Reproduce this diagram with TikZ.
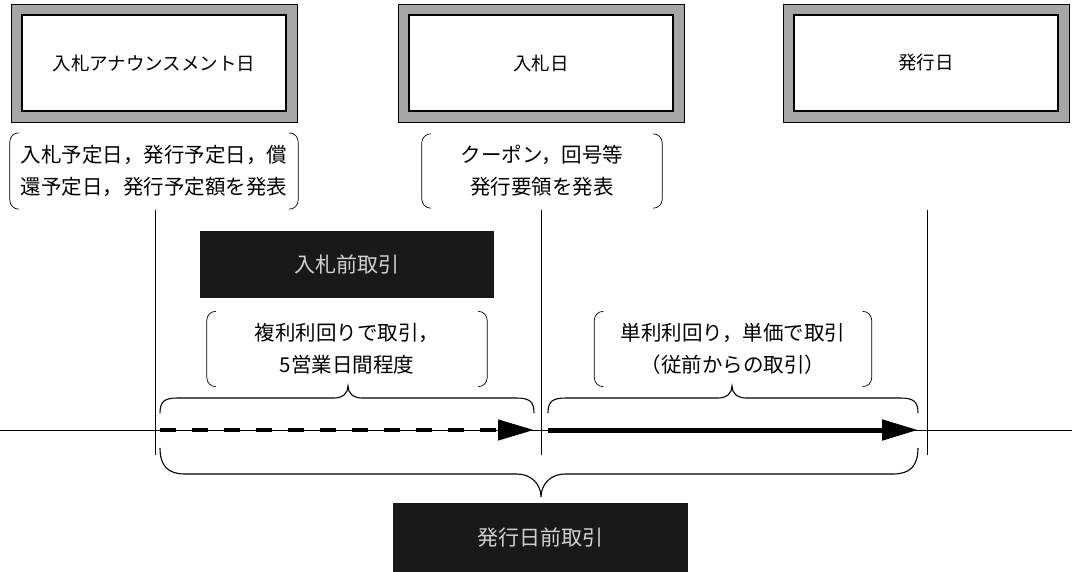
\documentclass[tikz,border=0pt]{standalone}
\usepackage{fontspec}
\setmainfont{Noto Sans CJK JP}
\usetikzlibrary{arrows.meta}
\begin{document}
\begin{tikzpicture}[x=1pt,y=-1pt,
  frameouter/.style={draw=black, line width=0.6pt, fill=black!35, minimum width=286pt, minimum height=118pt, inner sep=0pt},
  frameinner/.style={draw=black, line width=1.2pt, fill=white, minimum width=264pt, minimum height=96pt, inner sep=0pt, font=\fontsize{18.5}{22}\selectfont},
  darkbox/.style={fill=black!90, text=black!18, minimum width=295pt, inner sep=0pt, font=\fontsize{21}{25}\selectfont},
  notebox/.style={align=center, inner sep=0pt, font=\fontsize{20.5}{32}\selectfont},
  bracketline/.style={line width=0.7pt, rounded corners=9pt},
  braceline/.style={line width=1.1pt},
  thinline/.style={line width=1pt},
  tip/.style={-{Triangle[length=36pt,width=20pt]}}
]
\fill[white] (0,0) rectangle (1072,572);
\useasboundingbox (0,0) rectangle (1072,572);

% top frames
\node[frameouter] (f1) at (154,63) {};
\node[frameinner] (d1) at (154,63) {入札アナウンスメント日};
\node[frameouter] (f2) at (541,63) {};
\node[frameinner] (d2) at (541,63) {入札日};
\node[frameouter] (f3) at (926,63) {};
\node[frameinner] (d3) at (926,63) {発行日};

% note brackets under frames
\node[notebox, minimum width=288pt, minimum height=76pt] (n1) at (154,171) {入札予定日，発行予定日，償\\還予定日，発行予定額を発表};
\node[notebox, minimum width=240pt, minimum height=74pt] (n2) at (542,171) {クーポン，回号等\\発行要領を発表};
\node[notebox, minimum width=280pt, minimum height=75pt] (n3) at (347,349) {複利利回りで取引，\\5営業日間程度};
\node[notebox, minimum width=277pt, minimum height=75pt] (n4) at (733,349) {単利利回り，単価で取引\\（従前からの取引）};

\foreach \n in {n1,n2,n3,n4}{
  \draw[bracketline] ([xshift=9pt]\n.north west) -- (\n.north west) -- (\n.south west) -- ([xshift=9pt]\n.south west);
  \draw[bracketline] ([xshift=-9pt]\n.north east) -- (\n.north east) -- (\n.south east) -- ([xshift=-9pt]\n.south east);
}

% dark labels
\node[darkbox, minimum width=294pt, minimum height=67pt] (pre) at (347,264.5) {入札前取引};
\node[darkbox, minimum width=295pt, minimum height=69pt] (iss) at (540.5,537.5) {発行日前取引};

% vertical markers
\coordinate (v1t) at (155,210); \coordinate (v1b) at (155,455);
\coordinate (v2t) at (541,210); \coordinate (v2b) at (541,455);
\coordinate (v3t) at (927,210); \coordinate (v3b) at (927,455);
\draw[thinline] (v1t) -- (v1b);
\draw[thinline] (v2t) -- (v2b);
\draw[thinline] (v3t) -- (v3b);

% time axis
\coordinate (axl) at (0,430); \coordinate (axr) at (1072,430);
\draw[thinline] (axl) -- (axr);

% arrows
\coordinate (a1s) at (160,430); \coordinate (a1e) at (534,430);
\coordinate (a2s) at (548,430); \coordinate (a2e) at (918,430);
\draw[line width=4.5pt, dash pattern=on 16pt off 16pt, tip] (a1s) -- (a1e);
\draw[line width=5pt, tip] (a2s) -- (a2e);

% braces
\draw[braceline] (160,413) .. controls (160,401) and (165,398) .. (178,398) -- (334,398)
  .. controls (343,398) and (348,393) .. (348,386) .. controls (348,393) and (353,398) .. (362,398)
  -- (516,398) .. controls (529,398) and (534,401) .. (534,413);
\draw[braceline] (548,413) .. controls (548,401) and (553,398) .. (566,398) -- (718,398)
  .. controls (727,398) and (732,393) .. (732,386) .. controls (732,393) and (737,398) .. (746,398)
  -- (900,398) .. controls (913,398) and (918,401) .. (918,413);
\draw[braceline] (160,448) .. controls (160,466) and (168,474) .. (185,474) -- (517,474)
  .. controls (531,474) and (541,484) .. (541,497) .. controls (541,484) and (551,474) .. (565,474)
  -- (893,474) .. controls (910,474) and (918,466) .. (918,448);
\end{tikzpicture}
\end{document}
